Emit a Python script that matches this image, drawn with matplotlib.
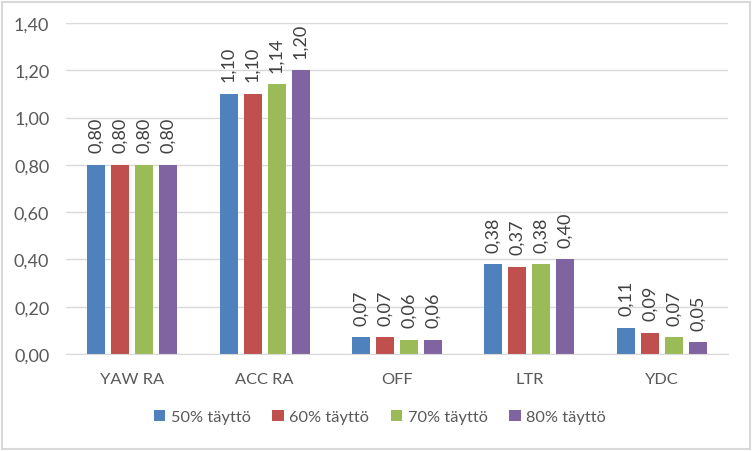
import matplotlib
matplotlib.use("Agg")
import matplotlib.pyplot as plt
from matplotlib.patches import FancyBboxPatch
import numpy as np

categories = ["YAW RA", "ACC RA", "OFF", "LTR", "YDC"]
series_names = ["50% täyttö", "60% täyttö", "70% täyttö", "80% täyttö"]
s50 = [0.80, 1.10, 0.07, 0.38, 0.11]
s60 = [0.80, 1.10, 0.07, 0.37, 0.09]
s70 = [0.80, 1.14, 0.06, 0.38, 0.07]
s80 = [0.80, 1.20, 0.06, 0.40, 0.05]
series = [s50, s60, s70, s80]
colors = ["#4F81BD", "#C0504D", "#9BBB59", "#8064A2"]
yticks = [0.0, 0.2, 0.4, 0.6, 0.8, 1.0, 1.2, 1.4]

plt.rcParams['font.family'] = ['Lato', 'DejaVu Sans']
fig = plt.figure(figsize=(7.52, 4.52), dpi=100)
ax = fig.add_axes([66/752, 1-355/452, (728-66)/752, (355-24)/452])

x = np.arange(len(categories))
w = 18/132.4
step = 24/132.4
for i, (vals, c, name) in enumerate(zip(series, colors, series_names)):
    pos = x + (i - 1.5) * step
    ax.bar(pos, vals, width=w, color=c, label=name, zorder=3)
    for p, v in zip(pos, vals):
        ax.annotate(f"{v:.2f}".replace(".", ","), (p, v), xytext=(0, 9),
                    textcoords="offset points", rotation=90,
                    ha="center", va="bottom", fontsize=13, color="#404040")

ax.set_xlim(-0.5, len(categories) - 0.5)
ax.set_ylim(0, 1.4)
ax.set_yticks(yticks)
ax.set_yticklabels([f"{t:.2f}".replace(".", ",") for t in yticks])
ax.set_xticks(x)
ax.set_xticklabels(categories)
ax.tick_params(axis="both", length=0, colors="#595959")
ax.tick_params(axis="y", labelsize=13, pad=12)
ax.tick_params(axis="x", labelsize=11.8, pad=13)
ax.grid(axis="y", color="#D9D9D9", linewidth=1, zorder=0)
for s in ["top", "right", "left"]:
    ax.spines[s].set_visible(False)
ax.spines["bottom"].set_color("#D9D9D9")
ax.spines["bottom"].set_zorder(4)

leg = fig.legend(loc="center", bbox_to_anchor=(380/752, 1-418/452), ncol=4,
                 frameon=False, fontsize=11.8, handlelength=0.7, handleheight=0.7,
                 handletextpad=0.35, columnspacing=1.3)
for t in leg.get_texts():
    t.set_color("#595959")

border = FancyBboxPatch((0.003, 0.004), 0.994, 0.99, boxstyle="square,pad=0",
                        transform=fig.transFigure, fill=False,
                        edgecolor="#D9D9D9", linewidth=1.5)
fig.patches.append(border)

fig.savefig("out.png", dpi=100)
